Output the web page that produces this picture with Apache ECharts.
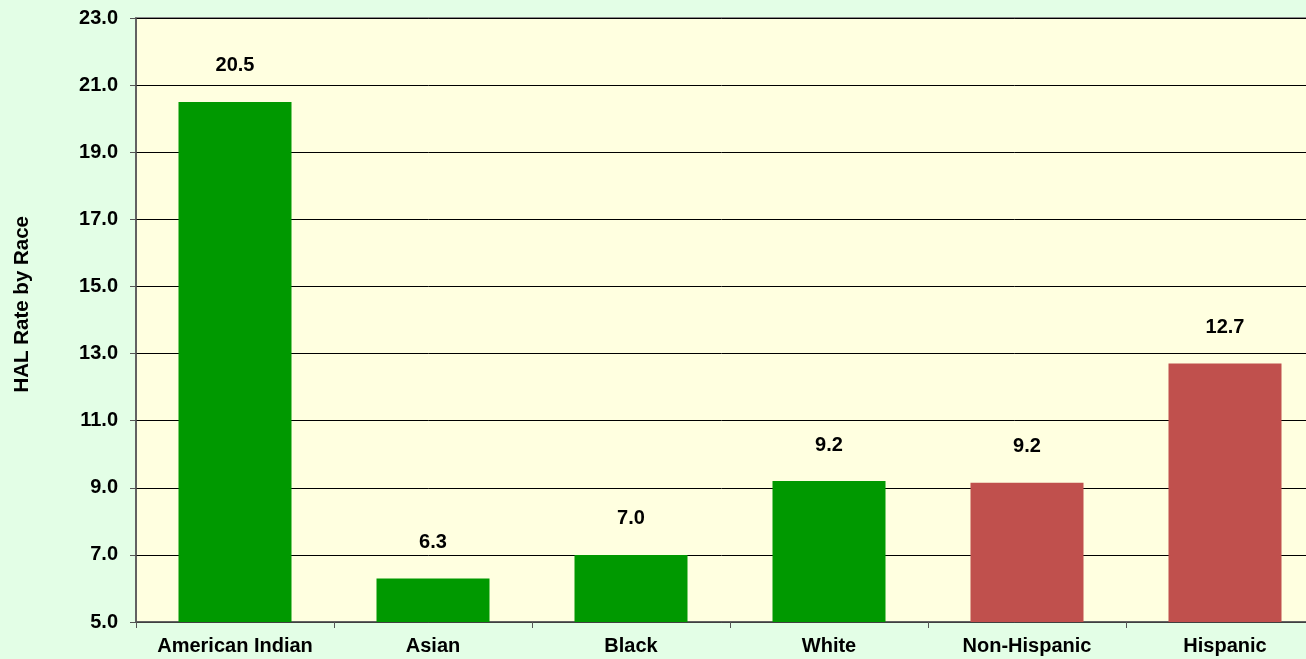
<!DOCTYPE html>
<html><head><meta charset="utf-8">
<script src="https://cdn.jsdelivr.net/npm/echarts@6/dist/echarts.min.js"></script>
<style>html,body{margin:0;padding:0;background:#e3fee6;}#c{width:1306px;height:659px;}</style>
</head><body><div id="c"></div>
<script>
const categories = ['American Indian','Asian','Black','White','Non-Hispanic','Hispanic'];
const values = [20.5, 6.3, 7.0, 9.2, 9.15, 12.7];
const barColors = ['#009900','#009900','#009900','#009900','#c0504d','#c0504d'];
const yTitle = 'HAL Rate by Race';

const chart = echarts.init(document.getElementById('c'));
chart.setOption({
  backgroundColor: '#e3fee6',
  animation: false,
  grid: {left: 136, top: 18, right: -18, bottom: 37, outerBoundsMode: 'none', containLabel: false,
    show: true, backgroundColor: '#ffffe0', borderColor: '#8c8c8c', borderWidth: 2},
  graphic: [{type: 'text', left: 12, top: 216, rotation: Math.PI/2,
    style: {text: yTitle, font: 'bold 20.5px "Liberation Sans", Arial', fill: '#000'}}],
  xAxis: {type: 'category', data: categories,
    axisLine: {lineStyle: {color: '#555', width: 1.5}},
    axisTick: {show: true, interval: 0, length: 6, lineStyle: {color: '#555'}},
    axisLabel: {interval: 0, hideOverlap: false, color: '#000', fontWeight: 'bold', fontSize: 20,
      fontFamily: '"Liberation Sans", Arial', margin: 14}},
  yAxis: {type: 'value', min: 5, max: 23, interval: 2,
    axisLine: {show: true, lineStyle: {color: '#555', width: 1.5}},
    axisTick: {show: true, length: 6, lineStyle: {color: '#555'}},
    splitLine: {lineStyle: {color: '#000', width: 1}},
    axisLabel: {color: '#000', fontWeight: 'bold', fontSize: 20, fontFamily: '"Liberation Sans", Arial', margin: 18,
      formatter: v => v.toFixed(1)}},
  series: [{type: 'bar', barWidth: 113,
    data: values.map((v, i) => ({value: v, itemStyle: {color: barColors[i]}})),
    label: {show: true, position: 'top', distance: 26, color: '#000', fontWeight: 'bold', fontSize: 20,
      fontFamily: '"Liberation Sans", Arial', formatter: p => p.value.toFixed(1)}}]
});
</script></body></html>
